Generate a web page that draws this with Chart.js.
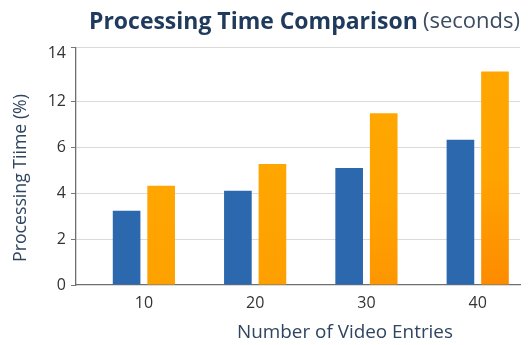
<!DOCTYPE html>
<html>
<head>
<meta charset="utf-8">
<script src="https://cdn.jsdelivr.net/npm/chart.js@4/dist/chart.umd.min.js"></script>
<style>
  html, body { margin: 0; padding: 0; background: #fff; }
  #wrap { width: 532px; height: 345px; position: relative; }
</style>
</head>
<body>
<div id="wrap"><canvas id="c"></canvas></div>
<script>
// Number of video entries on the x axis
const entries = [10, 20, 30, 40];
// Processing time per method
const methodATimes = [3.23, 4.10, 5.09, 6.32];
const methodBTimes = [4.32, 5.26, 7.47, 9.29];
// Y axis ticks and the labels printed next to them
const yTickValues = [0, 2, 4, 6, 8, 10.08, 10.33];
const yTickLabels = ['0', '2', '4', '6', '12', '14', ''];

const FONT = "'Open Sans', 'Noto Sans', sans-serif";
const BLUE = '#2b68ad';

// Orange bars get a gentle vertical shading, noticeable only on the tallest ones
function orangeFill(c) {
  const chart = c.chart;
  if (c.type !== 'data' || !chart.chartArea) return '#ffa500';
  const y = chart.scales.y;
  const v = c.raw.y;
  const top = y.getPixelForValue(v);
  const base = y.getPixelForValue(0);
  const t = Math.pow(Math.min(1, v / 10), 3);
  const g = chart.ctx.createLinearGradient(0, top, 0, base);
  g.addColorStop(0, '#ffa600');
  g.addColorStop(0.5, '#ffa300');
  const gb = Math.round(163 - 30 * t);
  g.addColorStop(1, `rgb(253,${gb},0)`);
  return g;
}

// Fits a string to a given pixel width by adjusting the font size
function fitFont(g, text, weight, target, base) {
  g.font = `${weight} ${base}px ${FONT}`;
  const w = g.measureText(text).width;
  return base * target / w;
}

const titlesPlugin = {
  id: 'titles',
  afterDraw(chart) {
    const g = chart.ctx;
    g.save();
    g.textBaseline = 'middle';
    g.textAlign = 'left';

    // Main heading: bold part plus regular unit note
    const head = 'Processing Time Comparison';
    const unit = '(seconds)';
    let fs = fitFont(g, head, 'bold', 329, 21);
    g.font = `bold ${fs}px ${FONT}`;
    g.fillStyle = '#1f3a5c';
    g.fillText(head, 89, 22);
    fs = fitFont(g, unit, 'normal', 97, 20);
    g.font = `normal ${fs}px ${FONT}`;
    g.fillStyle = '#3b4b60';
    g.fillText(unit, 423, 22);

    // X axis title
    const xt = 'Number of Video Entries';
    fs = fitFont(g, xt, 'normal', 216, 16);
    g.font = `normal ${fs}px ${FONT}`;
    g.fillStyle = '#2f4560';
    g.textAlign = 'center';
    g.fillText(xt, 345, 333);

    // Y axis title
    const yt = 'Processing Tiime (%)';
    fs = fitFont(g, yt, 'normal', 168, 16);
    g.font = `normal ${fs}px ${FONT}`;
    g.translate(21, 178);
    g.rotate(-Math.PI / 2);
    g.fillText(yt, 0, 0);
    g.restore();
  }
};

new Chart(document.getElementById('c'), {
  type: 'bar',
  data: {
    datasets: [
      {
        label: 'Method A',
        data: entries.map((e, i) => ({ x: e, y: methodATimes[i] })),
        backgroundColor: BLUE,
        borderWidth: 0
      },
      {
        label: 'Method B',
        data: entries.map((e, i) => ({ x: e, y: methodBTimes[i] })),
        backgroundColor: orangeFill,
        borderWidth: 0
      }
    ]
  },
  options: {
    responsive: true,
    maintainAspectRatio: false,
    animation: false,
    devicePixelRatio: 1,
    categoryPercentage: 0.621,
    barPercentage: 0.8,
    layout: { padding: { top: 47.5, right: 12, left: 0, bottom: 0 } },
    plugins: {
      legend: { display: false },
      title: { display: false },
      tooltip: { enabled: false }
    },
    scales: {
      x: {
        type: 'linear',
        offset: false,
        min: 3.9,
        max: 43.8,
        afterBuildTicks(scale) {
          scale.ticks = entries.map(v => ({ value: v }));
        },
        afterFit(scale) { scale.height = 60; },
        grid: { display: false, drawTicks: false, offset: false },
        border: { display: true, color: '#6f6f6f', width: 1.3 },
        ticks: {
          autoSkip: false,
          maxRotation: 0,
          padding: 9,
          color: '#333',
          font: { family: FONT, size: 16 },
          callback: (v) => String(v)
        }
      },
      y: {
        min: 0,
        max: 10.33,
        afterBuildTicks(scale) {
          scale.ticks = yTickValues.map(v => ({ value: v }));
        },
        afterFit(scale) { scale.width = 76; },
        grid: {
          color: (c) => (c.index === 5 || c.index === 0) ? 'rgba(0,0,0,0)' : '#dadada',
          tickColor: (c) => c.index === 5 ? 'rgba(0,0,0,0)' : '#777',
          tickLength: 5,
          lineWidth: 1
        },
        border: { display: true, color: '#6f6f6f', width: 1.3 },
        ticks: {
          autoSkip: false,
          padding: 5,
          color: '#333',
          font: { family: FONT, size: 16 },
          callback: (v, i) => yTickLabels[i]
        }
      }
    }
  },
  plugins: [titlesPlugin]
});
</script>
</body>
</html>
